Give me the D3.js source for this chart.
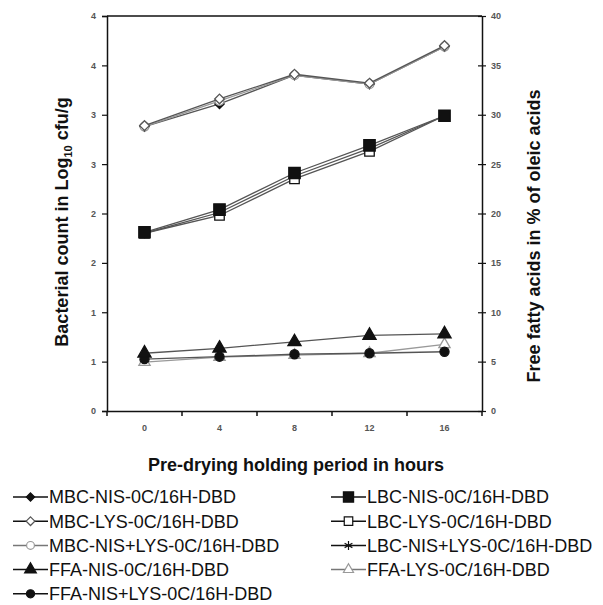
<!DOCTYPE html>
<html>
<head>
<meta charset="utf-8">
<script src="https://cdn.jsdelivr.net/npm/d3@7"></script>
<style>
  body { margin: 0; background: #fff; }
  text { font-family: "Liberation Sans", Arial, sans-serif; }
</style>
</head>
<body>
<div id="chart-area"></div>
<script>

// Data
let hours = ["0", "4", "8", "12", "16"];

let leftTicks = [0, 0.5, 1, 1.5, 2, 2.5, 3, 3.5, 4];
let leftTickLabels = ["0", "1", "1", "2", "2", "3", "3", "4", "4"];
let rightTicks = [0, 5, 10, 15, 20, 25, 30, 35, 40];

// bacterial counts (left axis)
let mbcNis    = [2.88, 3.11, 3.40, 3.31, 3.69];
let mbcLys    = [2.89, 3.16, 3.41, 3.32, 3.70];
let mbcNisLys = [2.88, 3.14, 3.40, 3.31, 3.69];
let lbcNis    = [1.81, 2.04, 2.41, 2.69, 2.99];
let lbcLys    = [1.80, 1.98, 2.35, 2.63, 2.99];
let lbcNisLys = [1.80, 2.01, 2.38, 2.66, 2.99];

// free fatty acids (right axis)
let ffaNis    = [5.85, 6.35, 7.0, 7.65, 7.8];
let ffaLys    = [4.95, 5.45, 5.65, 5.85, 6.75];
let ffaNisLys = [5.25, 5.5, 5.75, 5.85, 6.0];

// drawing order: first ones end up underneath
let series = [
  {name: "FFA-LYS-0C/16H-DBD", values: ffaLys, axis: "right", symbol: d3.symbolTriangle, size: 55, fill: "#fff", stroke: "#999", line: "#999"},
  {name: "MBC-NIS-0C/16H-DBD", values: mbcNis, axis: "left", symbol: d3.symbolDiamond2, size: 55, fill: "#111", stroke: "#111", line: "#555"},
  {name: "MBC-NIS+LYS-0C/16H-DBD", values: mbcNisLys, axis: "left", symbol: d3.symbolCircle, size: 60, fill: "#fff", stroke: "#999", line: "#999"},
  {name: "MBC-LYS-0C/16H-DBD", values: mbcLys, axis: "left", symbol: d3.symbolDiamond2, size: 60, fill: "#fff", stroke: "#555", line: "#555"},
  {name: "LBC-NIS+LYS-0C/16H-DBD", values: lbcNisLys, axis: "left", symbol: d3.symbolAsterisk, size: 70, fill: "none", stroke: "#111", line: "#555"},
  {name: "LBC-LYS-0C/16H-DBD", values: lbcLys, axis: "left", symbol: d3.symbolSquare, size: 90, fill: "#fff", stroke: "#111", line: "#555"},
  {name: "LBC-NIS-0C/16H-DBD", values: lbcNis, axis: "left", symbol: d3.symbolSquare, size: 130, fill: "#111", stroke: "#111", line: "#555"},
  {name: "FFA-NIS+LYS-0C/16H-DBD", values: ffaNisLys, axis: "right", symbol: d3.symbolCircle, size: 65, fill: "#111", stroke: "#111", line: "#555"},
  {name: "FFA-NIS-0C/16H-DBD", values: ffaNis, axis: "right", symbol: d3.symbolTriangle, size: 75, fill: "#111", stroke: "#111", line: "#555"}
];

// legend order (two columns)
let legendCol1 = ["MBC-NIS-0C/16H-DBD", "MBC-LYS-0C/16H-DBD", "MBC-NIS+LYS-0C/16H-DBD", "FFA-NIS-0C/16H-DBD", "FFA-NIS+LYS-0C/16H-DBD"];
let legendCol2 = ["LBC-NIS-0C/16H-DBD", "LBC-LYS-0C/16H-DBD", "LBC-NIS+LYS-0C/16H-DBD", "FFA-LYS-0C/16H-DBD"];

// SVG drawing area
let margin = {top: 16, right: 121, bottom: 194, left: 107};
let width = 603 - margin.left - margin.right,
    height = 605 - margin.top - margin.bottom;

let root = d3.select("#chart-area").append("svg")
    .attr("width", 603)
    .attr("height", 605);

let svg = root.append("g")
    .attr("transform", "translate(" + margin.left + "," + margin.top + ")");

// Scales
let x = d3.scaleBand()
    .domain(hours)
    .range([0, width]);

let yLeft = d3.scaleLinear()
    .domain([0, 4])
    .range([height, 0]);

let yRight = d3.scaleLinear()
    .domain([0, 40])
    .range([height, 0]);

// Axes
let xAxis = d3.axisBottom(x)
    .tickSize(0)
    .tickPadding(14);

let yAxisLeft = d3.axisLeft(yLeft)
    .tickValues(leftTicks)
    .tickFormat((d, i) => leftTickLabels[i])
    .tickSize(5)
    .tickPadding(6);

let yAxisRight = d3.axisRight(yRight)
    .tickValues(rightTicks)
    .tickSizeInner(4)
    .tickSizeOuter(0)
    .tickPadding(5);

let xGroup = svg.append("g")
    .attr("class", "axis x-axis")
    .attr("transform", "translate(0," + height + ")")
    .call(xAxis);

// x ticks sit between the categories
let boundaries = hours.map(h => x(h)).concat([width]);
xGroup.selectAll(".between")
    .data(boundaries)
    .enter()
    .append("line")
    .attr("class", "between")
    .attr("x1", d => d)
    .attr("x2", d => d)
    .attr("y1", 0)
    .attr("y2", 5)
    .attr("stroke", "#111")
    .attr("stroke-width", 1.5);

let yGroupLeft = svg.append("g")
    .attr("class", "axis y-axis")
    .call(yAxisLeft);

let yGroupRight = svg.append("g")
    .attr("class", "axis y-axis-right")
    .attr("transform", "translate(" + width + ",0)")
    .call(yAxisRight);

// right ticks cross the axis
yGroupRight.selectAll(".tick line")
    .attr("x1", -4);

svg.selectAll(".axis .domain")
    .attr("stroke", "#111")
    .attr("stroke-width", 1.5);
svg.selectAll(".axis .tick line")
    .attr("stroke", "#111")
    .attr("stroke-width", 1.2);
svg.selectAll(".axis text")
    .attr("font-size", 9)
    .attr("font-weight", "bold")
    .attr("fill", "#555");

// top frame line
svg.append("line")
    .attr("x1", 0)
    .attr("x2", width)
    .attr("y1", 0)
    .attr("y2", 0)
    .attr("stroke", "#111")
    .attr("stroke-width", 1.5);

// Lines and markers
let cx = i => x(hours[i]) + x.bandwidth() / 2;

series.forEach(s => {
  let yScale = s.axis == "left" ? yLeft : yRight;
  let line = d3.line()
      .x((d, i) => cx(i))
      .y(d => yScale(d));

  svg.append("path")
      .datum(s.values)
      .attr("fill", "none")
      .attr("stroke", s.line)
      .attr("stroke-width", 1.3)
      .attr("d", line);

  svg.selectAll(null)
      .data(s.values)
      .enter()
      .append("path")
      .attr("transform", (d, i) => "translate(" + cx(i) + "," + yScale(d) + ")")
      .attr("d", d3.symbol().type(s.symbol).size(s.size))
      .attr("fill", s.fill)
      .attr("stroke", s.stroke)
      .attr("stroke-width", 1.3);
});

// Axis titles
root.append("text")
    .attr("x", 296)
    .attr("y", 471)
    .attr("text-anchor", "middle")
    .attr("font-size", 18)
    .attr("font-weight", "bold")
    .attr("fill", "#111")
    .text("Pre-drying holding period in hours");

let leftTitle = root.append("text")
    .attr("transform", "translate(68,222) rotate(-90)")
    .attr("text-anchor", "middle")
    .attr("font-size", 18)
    .attr("font-weight", "bold")
    .attr("fill", "#111");
leftTitle.append("tspan").text("Bacterial count in Log");
leftTitle.append("tspan").attr("font-size", 11).attr("dy", 4).text("10");
leftTitle.append("tspan").attr("dy", -4).text(" cfu/g");

root.append("text")
    .attr("transform", "translate(540,236) rotate(-90)")
    .attr("text-anchor", "middle")
    .attr("font-size", 18)
    .attr("font-weight", "bold")
    .attr("fill", "#111")
    .text("Free fatty acids in % of oleic acids");

// Legend
let byName = {};
series.forEach(s => { byName[s.name] = s; });

function drawLegend(names, x0) {
  names.forEach((n, i) => {
    let s = byName[n];
    let yy = 497 + i * 24.2;
    let g = root.append("g").attr("transform", "translate(" + x0 + "," + yy + ")");
    g.append("line")
        .attr("x1", 0)
        .attr("x2", 35)
        .attr("y1", 0)
        .attr("y2", 0)
        .attr("stroke", s.line == "#999" ? "#777" : "#111")
        .attr("stroke-width", 1.5);
    g.append("path")
        .attr("transform", "translate(17.5,0)")
        .attr("d", d3.symbol().type(s.symbol).size(s.size * 0.8))
        .attr("fill", s.fill)
        .attr("stroke", s.stroke)
        .attr("stroke-width", 1.2);
    g.append("text")
        .attr("x", 36)
        .attr("y", 6.3)
        .attr("font-size", 18)
        .attr("fill", "#111")
        .text(n);
  });
}
drawLegend(legendCol1, 13);
drawLegend(legendCol2, 331);

</script>
</body>
</html>
